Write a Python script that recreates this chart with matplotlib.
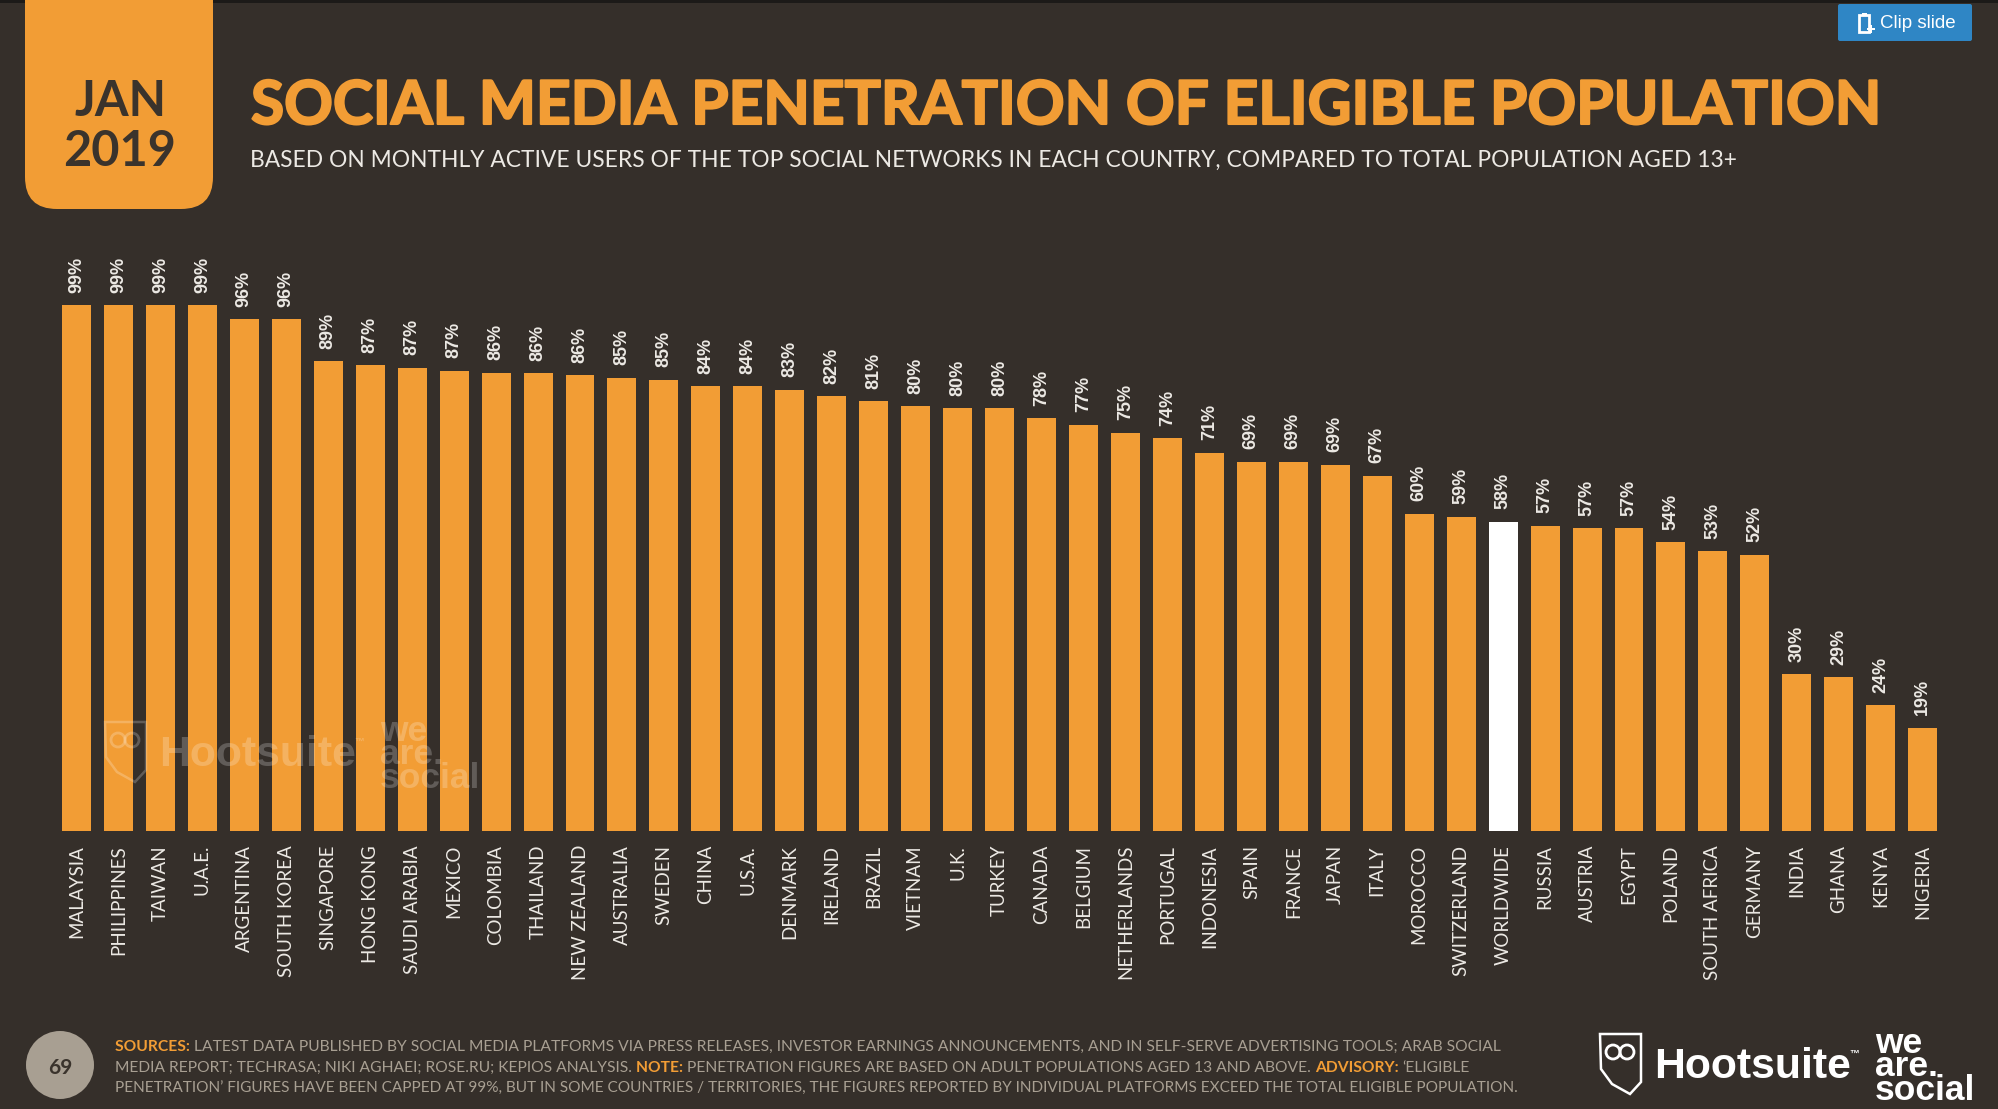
import matplotlib
matplotlib.use('Agg')
import matplotlib.patheffects as pe
import matplotlib.pyplot as plt
from matplotlib.patches import Circle, Ellipse, FancyBboxPatch, Polygon, Rectangle

countries = ['MALAYSIA', 'PHILIPPINES', 'TAIWAN', 'U.A.E.', 'ARGENTINA', 'SOUTH KOREA', 'SINGAPORE',
             'HONG KONG', 'SAUDI ARABIA', 'MEXICO', 'COLOMBIA', 'THAILAND', 'NEW ZEALAND', 'AUSTRALIA',
             'SWEDEN', 'CHINA', 'U.S.A.', 'DENMARK', 'IRELAND', 'BRAZIL', 'VIETNAM', 'U.K.', 'TURKEY',
             'CANADA', 'BELGIUM', 'NETHERLANDS', 'PORTUGAL', 'INDONESIA', 'SPAIN', 'FRANCE', 'JAPAN',
             'ITALY', 'MOROCCO', 'SWITZERLAND', 'WORLDWIDE', 'RUSSIA', 'AUSTRIA', 'EGYPT', 'POLAND',
             'SOUTH AFRICA', 'GERMANY', 'INDIA', 'GHANA', 'KENYA', 'NIGERIA']
# printed figures
labels = [99, 99, 99, 99, 96, 96, 89, 87, 87, 87, 86, 86, 86, 85, 85, 84, 84, 83, 82, 81, 80, 80, 80,
          78, 77, 75, 74, 71, 69, 69, 69, 67, 60, 59, 58, 57, 57, 57, 54, 53, 52, 30, 29, 24, 19]
# bar lengths as drawn on the slide, not always the same as the printed figure
heights = [99, 99, 99, 99, 96.4, 96.4, 88.5, 87.7, 87.2, 86.7, 86.3, 86.2, 85.8, 85.4, 85, 83.8, 83.8,
           83.1, 81.9, 80.9, 80, 79.6, 79.6, 77.7, 76.5, 75, 74, 71.2, 69.5, 69.5, 69, 66.9, 59.7, 59.2,
           58.2, 57.5, 57, 57, 54.4, 52.7, 52, 29.5, 29, 23.7, 19.4]
highlight = 'WORLDWIDE'

BG = '#352f2a'
ORANGE = '#f29d35'
DARK = '#3a332c'
GREY = '#a89f92'
LIGHT = '#ece9e4'
W, H = 1999, 1109
FONT = ['Lato', 'DejaVu Sans']
SANS = ['Liberation Sans', 'DejaVu Sans']

fig = plt.figure(figsize=(W / 100, H / 100), dpi=100, facecolor=BG)

# bars
left, right = 76.5 - 20.98, 1922.7 + 20.98
bottom, top = 831, 831 - 5.31 * 110
ax = fig.add_axes([left / W, 1 - bottom / H, (right - left) / W, (bottom - top) / H])
ax.set_facecolor('none')
colors = ['white' if c == highlight else ORANGE for c in countries]
ax.bar(range(len(countries)), heights, width=0.69, color=colors)
ax.set_xlim(-0.5, len(countries) - 0.5)
ax.set_ylim(0, 110)
ax.set_xticks(range(len(countries)))
ax.set_xticklabels(countries, rotation=90, fontsize=13.5, color=LIGHT, family=FONT)
ax.tick_params(axis='x', length=0, pad=10)
ax.set_yticks([])
for s in ax.spines.values():
    s.set_visible(False)
for i, (h, l) in enumerate(zip(heights, labels)):
    ax.annotate(f'{l}%', (i, h), xytext=(0, 9), textcoords='offset points', rotation=90, ha='center',
                va='bottom', fontsize=13, color=LIGHT, family=SANS, fontweight='bold')

# everything else is laid out in slide pixels
deco = fig.add_axes([0, 0, 1, 1], zorder=5)
deco.set_xlim(0, W)
deco.set_ylim(H, 0)
deco.axis('off')


def put(x, y, s, size, color=LIGHT, weight='normal', ha='left', family=FONT, **kw):
    return deco.text(x, y, s, fontsize=size, color=color, fontweight=weight, ha=ha, va='center',
                     family=family, **kw)


def run_line(x, y, parts, size):
    # coloured pieces of one footer line, placed one after the other
    rend = fig.canvas.get_renderer()
    for s, color, weight in parts:
        t = put(x, y, s, size, color=color, weight=weight)
        x += t.get_window_extent(rend).width


deco.add_patch(Rectangle((0, 0), W, 2.5, color='#1c1a18', lw=0))
deco.add_patch(FancyBboxPatch((25, -60), 188, 269, boxstyle='round,pad=0,rounding_size=32', color=ORANGE, lw=0))
put(120, 102, 'JAN', 35, color=DARK, weight='bold', ha='center')
put(120, 152, '2019', 35, color=DARK, weight='bold', ha='center')
title = put(251, 107, 'SOCIAL MEDIA PENETRATION OF ELIGIBLE POPULATION', 43.5, color=ORANGE, weight='bold')
title.set_path_effects([pe.withStroke(linewidth=1.5, foreground=ORANGE)])
put(250, 160, 'BASED ON MONTHLY ACTIVE USERS OF THE TOP SOCIAL NETWORKS IN EACH COUNTRY, COMPARED TO TOTAL POPULATION AGED 13+',
    16.4, color=LIGHT)

# clip slide button
deco.add_patch(FancyBboxPatch((1838, 4), 134, 37, boxstyle='round,pad=0,rounding_size=2', color='#2f86c5', lw=0))
deco.add_patch(Rectangle((1859.5, 15), 10, 17, fill=False, ec='white', lw=2))
deco.add_patch(Rectangle((1862, 12.5), 5, 3, color='white', lw=0))
deco.add_patch(Rectangle((1867, 28), 8, 2, color='white', lw=0))
deco.add_patch(Rectangle((1870, 25), 2, 8, color='white', lw=0))
put(1880, 23, 'Clip slide', 13.5, color='white', family=SANS)

# page number and footer
deco.add_patch(Ellipse((60, 1065), 68, 68, color=GREY, lw=0))
put(60, 1068, '69', 15, color=DARK, weight='bold', ha='center')
run_line(115, 1047, [('SOURCES: ', ORANGE, 'bold'),
                     ('LATEST DATA PUBLISHED BY SOCIAL MEDIA PLATFORMS VIA PRESS RELEASES, INVESTOR EARNINGS ANNOUNCEMENTS, AND IN SELF-SERVE ADVERTISING TOOLS; ARAB SOCIAL', GREY, 'normal')], 11.27)
run_line(115, 1068, [('MEDIA REPORT; TECHRASA; NIKI AGHAEI; ROSE.RU; KEPIOS ANALYSIS. ', GREY, 'normal'),
                     ('NOTE: ', ORANGE, 'bold'),
                     ('PENETRATION FIGURES ARE BASED ON ADULT POPULATIONS AGED 13 AND ABOVE. ', GREY, 'normal'),
                     ('ADVISORY: ', ORANGE, 'bold'),
                     ('\u2018ELIGIBLE', GREY, 'normal')], 11.25)
run_line(115, 1089, [('PENETRATION\u2019 FIGURES HAVE BEEN CAPPED AT 99%, BUT IN SOME COUNTRIES / TERRITORIES, THE FIGURES REPORTED BY INDIVIDUAL PLATFORMS EXCEED THE TOTAL ELIGIBLE POPULATION.', GREY, 'normal')], 11.04)


def logos(x0, y0, alpha=1.0):
    # owl shield, Hootsuite wordmark and the we are social stack
    pts = [(0, 0), (41, 0), (41, 48), (30, 60), (12, 50), (1, 35)]
    deco.add_patch(Polygon([(x0 + a, y0 + b) for a, b in pts], fill=False, ec='white', lw=1.8, alpha=alpha))
    for dx in (13, 27):
        deco.add_patch(Circle((x0 + dx, y0 + 18), 7, fill=False, ec='white', lw=2, alpha=alpha))
    kw = dict(color='white', weight='bold', alpha=alpha, family=SANS)
    put(x0 + 54, y0 + 33, 'Hootsuite', 30.8, **kw)
    put(x0 + 249, y0 + 20, '\u2122', 7, **kw)
    put(x0 + 275, y0 + 33, 'we\nare.\nsocial', 25.5, linespacing=0.65, **kw)


logos(1600, 1034)
logos(105, 722, alpha=0.22)

fig.savefig('out.png', dpi=100, facecolor=BG)
